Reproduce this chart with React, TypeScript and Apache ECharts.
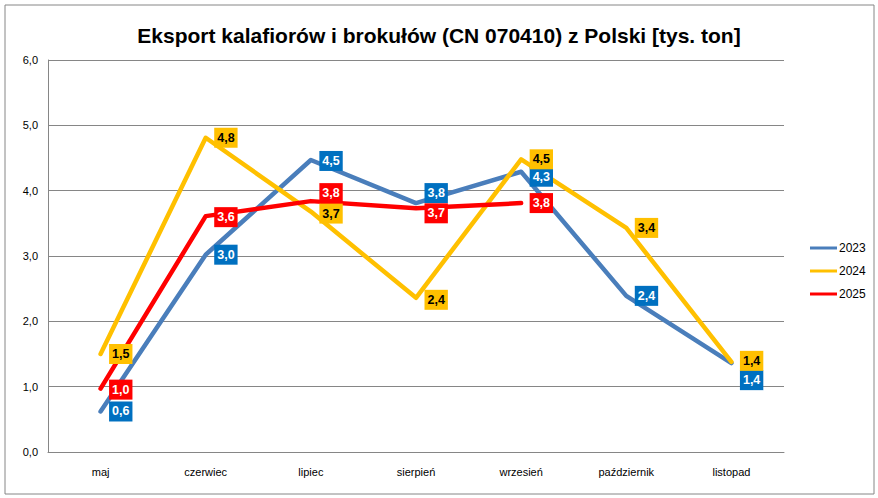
import React, { useEffect, useRef } from "react";
import * as echarts from "echarts";

const months = ["maj", "czerwiec", "lipiec", "sierpień", "wrzesień", "październik", "listopad"];
const seriesNames = ["2023", "2024", "2025"];
const values2023 = [0.62, 3.02, 4.47, 3.81, 4.29, 2.39, 1.36];
const values2024 = [1.5, 4.81, 3.68, 2.36, 4.48, 3.43, 1.38];
const values2025 = [0.97, 3.61, 3.84, 3.73, 3.81];
const yTicks = [0, 1, 2, 3, 4, 5, 6];

const labelShift2023 = [0, 0, 1, -10, 5, 0, 17];
const labelShift2024 = [0, 0, 2, 2, 0, 0, -1];
const labelShift2025 = [1, 1, -8, 5, 0];

const fmt = (v: number) => v.toFixed(1).replace(".", ",");
const FONT = "'Liberation Sans', Arial, sans-serif";

export default function App() {
  const ref = useRef<HTMLDivElement>(null);
  useEffect(() => {
    if (!ref.current) return;
    const chart = echarts.init(ref.current, null, { renderer: "svg" });
    const lineColors = ["#4A7EBB", "#FFC000", "#FF0000"];
    const boxColors = ["#0070C0", "#FFC000", "#FF0000"];
    const textColors = ["#ffffff", "#000000", "#ffffff"];
    const allValues = [values2023, values2024, values2025];
    const shifts = [labelShift2023, labelShift2024, labelShift2025];
    const lineSeries = seriesNames.map((name, i) => ({
      name,
      type: "line",
      data: allValues[i],
      symbol: "none",
      itemStyle: { color: lineColors[i] },
      lineStyle: { width: 4.5, color: lineColors[i], cap: "round", join: "round" },
      z: 3 + i,
    }));
    const labelSeries = seriesNames.map((name, i) => ({
      name: name + " etykiety",
      type: "line",
      data: allValues[i].map((v, j) => ({
        value: v,
        label: { offset: [0, shifts[i][j] || 0] },
      })),
      symbol: "circle",
      symbolSize: 1,
      showSymbol: true,
      itemStyle: { color: lineColors[i], opacity: 0 },
      lineStyle: { width: 0, opacity: 0 },
      z: 10,
      silent: true,
      label: {
        show: true,
        position: "right",
        distance: 8,
        formatter: (p: any) => fmt(p.value),
        backgroundColor: boxColors[i],
        color: textColors[i],
        opacity: 1,
        fontFamily: FONT,
        fontWeight: "bold",
        fontSize: 12.5,
        padding: [4, 3, 3, 3],
      },
    }));
    chart.setOption({
      animation: false,
      backgroundColor: "#ffffff",
      title: {
        text: "Eksport kalafiorów i brokułów (CN 070410) z Polski [tys. ton]",
        left: "center",
        top: 20,
        textStyle: { fontFamily: FONT, fontWeight: "bold", fontSize: 21, color: "#000000" },
      },
      graphic: [
        {
          type: "rect",
          shape: { x: 5, y: 5, width: 869, height: 489 },
          style: { fill: "none", stroke: "#868686", lineWidth: 1 },
          silent: true,
        },
      ],
      legend: {
        orient: "vertical",
        left: 805,
        top: 237,
        itemWidth: 27,
        itemHeight: 3,
        itemGap: 11,
        icon: "rect",
        data: seriesNames,
        textStyle: { fontFamily: FONT, fontSize: 12, color: "#000000", padding: [0, 0, 0, -3] },
      },
      grid: { left: 48, right: 94, top: 60, bottom: 46 },
      xAxis: {
        type: "category",
        data: months,
        boundaryGap: true,
        axisTick: { show: false },
        axisLine: { lineStyle: { color: "#868686", width: 1 } },
        axisLabel: { margin: 14, fontFamily: FONT, fontSize: 11, color: "#000000" },
      },
      yAxis: {
        type: "value",
        min: yTicks[0],
        max: yTicks[yTicks.length - 1],
        interval: 1,
        axisLine: { show: true, lineStyle: { color: "#868686", width: 1 } },
        axisTick: { show: false },
        splitLine: { lineStyle: { color: "#868686", width: 1 } },
        axisLabel: { margin: 10, fontFamily: FONT, fontSize: 11, color: "#000000", formatter: (v: number) => fmt(v) },
      },
      series: [...lineSeries, ...labelSeries],
    });
    return () => chart.dispose();
  }, []);
  return <div ref={ref} style={{ position: "absolute", left: 0, top: 0, width: 878, height: 498 }} />;
}
